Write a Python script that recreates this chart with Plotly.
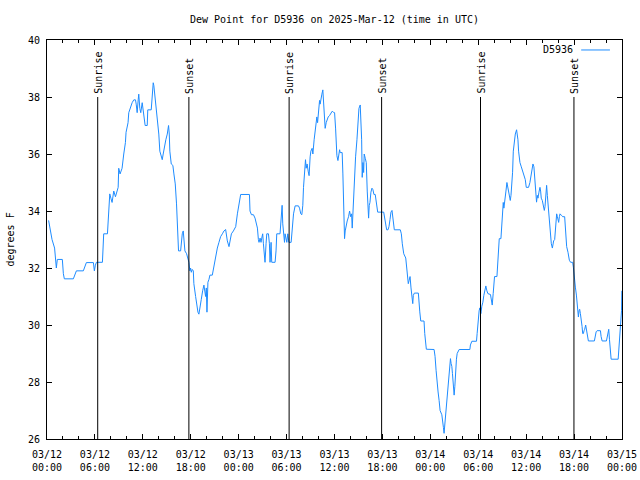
import pandas as pd
import plotly.graph_objects as go

START = "2025-03-12 00:00"
END = "2025-03-15 00:00"
STATION = "D5936"

# hours after 2025-03-12 00:00 UTC
hours = [
    0.20, 0.45, 0.63, 0.95, 1.04, 1.17, 1.29, 1.92, 2.05, 2.17, 3.30, 3.55, 3.68, 4.55, 4.74, 4.93,
    5.81, 5.93, 6.06, 6.19, 6.94, 7.03, 7.10, 7.57, 7.69, 7.73, 7.86, 8.00, 8.15, 8.36, 8.57, 8.91,
    8.98, 9.15, 9.40, 9.61, 9.82, 9.90, 10.03, 10.15, 10.24, 10.45, 10.66, 10.87, 11.08, 11.17,
    11.29, 11.42, 11.49, 11.62, 11.74, 11.92, 12.04, 12.21, 12.29, 12.55, 12.62, 13.05, 13.17,
    13.30, 13.38, 13.46, 13.59, 13.80, 14.00, 14.13, 14.30, 14.43, 14.55, 14.72, 14.88, 15.06,
    15.22, 15.31, 15.38, 15.56, 15.76, 15.89, 16.06, 16.22, 16.31, 16.47, 16.73, 16.81, 16.94,
    17.06, 17.19, 17.27, 17.48, 17.57, 17.77, 17.89, 17.98, 18.07, 18.19, 18.32, 18.39, 18.61,
    18.73, 18.90, 19.02, 19.15, 19.32, 19.49, 19.65, 19.86, 19.95, 20.03, 20.15, 20.28, 20.40,
    20.70, 20.83, 20.99, 21.15, 21.33, 21.53, 21.74, 21.96, 22.16, 22.37, 22.58, 22.79, 22.91,
    23.09, 23.34, 23.63, 23.84, 24.04, 24.17, 24.25, 25.35, 25.42, 25.60, 25.85, 26.05, 26.17,
    26.35, 26.47, 26.55, 26.68, 26.80, 26.89, 27.01, 27.10, 27.23, 27.30, 27.43, 27.52, 27.73,
    27.85, 27.93, 28.06, 28.14, 28.56, 28.68, 28.77, 29.18, 29.27, 29.36, 29.44, 29.52, 29.61,
    29.74, 29.81, 29.94, 30.03, 30.15, 30.28, 30.57, 30.65, 30.74, 30.87, 31.07, 31.49, 31.62,
    31.78, 31.91, 32.03, 32.12, 32.25, 32.37, 32.45, 32.57, 32.70, 32.82, 32.95, 33.04, 33.20,
    33.29, 33.45, 33.58, 33.70, 33.79, 33.88, 34.00, 34.13, 34.20, 34.29, 34.42, 34.54, 34.63,
    34.71, 34.83, 34.96, 35.04, 35.21, 35.38, 35.55, 35.71, 35.89, 36.01, 36.14, 36.26, 36.30,
    36.43, 36.55, 36.64, 36.71, 36.96, 37.05, 37.14, 37.26, 37.34, 37.46, 37.59, 37.76, 37.89,
    38.02, 38.14, 38.22, 38.31, 38.39, 38.52, 38.64, 38.81, 38.93, 39.06, 39.22, 39.31, 39.40,
    39.47, 39.56, 39.65, 39.72, 39.85, 39.98, 40.10, 40.19, 40.27, 40.35, 40.44, 40.56, 40.69,
    40.81, 40.94, 41.10, 41.19, 41.28, 41.41, 42.16, 42.28, 42.41, 42.53, 42.70, 42.82, 42.95,
    43.07, 43.20, 43.29, 43.36, 43.49, 44.24, 44.37, 44.49, 44.67, 44.92, 44.99, 45.12, 45.24,
    45.33, 45.46, 45.58, 45.67, 45.80, 45.87, 46.00, 46.50, 46.59, 46.68, 46.80, 47.21, 47.30,
    47.43, 47.50, 48.47, 48.59, 48.72, 48.84, 48.97, 49.10, 49.22, 49.44, 49.56, 49.64, 49.72,
    49.81, 49.89, 49.97, 50.06, 50.19, 50.31, 50.44, 50.52, 50.60, 50.69, 50.77, 50.89, 50.98,
    51.07, 51.15, 51.27, 51.36, 51.48, 51.61, 52.95, 53.02, 53.20, 53.78, 53.86, 53.95, 54.03,
    54.11, 54.20, 54.33, 54.45, 54.58, 54.70, 54.83, 54.95, 55.08, 55.21, 55.53, 55.66, 55.75,
    55.87, 55.96, 56.04, 56.34, 56.41, 56.54, 56.63, 56.84, 56.91, 57.00, 57.13, 57.21, 57.29,
    57.38, 57.47, 57.59, 57.67, 57.80, 57.92, 58.01, 58.10, 58.17, 58.30, 58.39, 58.51, 58.64,
    58.80, 58.89, 58.97, 59.05, 59.22, 59.39, 59.55, 59.72, 59.89, 60.01, 60.30, 60.47, 60.60,
    60.72, 60.85, 60.97, 61.05, 61.14, 61.23, 61.30, 61.39, 61.48, 61.60, 61.73, 61.81, 61.89,
    62.02, 62.14, 62.27, 62.36, 62.48, 62.56, 62.65, 62.74, 62.81, 62.90, 62.99, 63.06, 63.15,
    63.28, 63.36, 63.44, 63.57, 63.66, 63.74, 63.82, 63.91, 63.99, 64.07, 64.16, 64.24, 64.41,
    64.57, 64.82, 64.91, 64.99, 65.07, 65.24, 65.32, 65.41, 65.57, 65.82, 65.91, 66.00, 66.07,
    66.16, 66.29, 66.37, 66.45, 66.54, 66.62, 66.70, 66.79, 66.91, 67.00, 67.08, 67.16, 67.25,
    67.33, 67.45, 67.58, 67.66, 67.79, 68.54, 68.63, 68.76, 68.88, 69.30, 69.38, 69.51, 70.05,
    70.13, 70.26, 70.34, 70.43, 70.51, 70.64, 71.52, 71.60, 71.72, 71.85, 71.94, 71.98,
]

dew_point = [
    33.67, 33.2, 33.0, 32.7, 32.27, 32.0, 32.3, 32.3, 31.8, 31.62, 31.62, 31.8, 31.9, 31.9, 32.05, 32.19,
    32.19, 31.9, 32.1, 32.2, 32.2, 32.6, 33.2, 33.2, 33.8, 34.3, 34.6, 34.45, 34.3, 34.7, 34.5, 34.83,
    35.5, 35.3, 35.5, 36.0, 36.4, 36.76, 36.9, 37.1, 37.45, 37.63, 37.8, 37.9, 37.9, 37.75,
    37.45, 37.9, 38.1, 37.6, 37.45, 37.8, 37.55, 37.2, 37.0, 37.0, 37.55, 37.55, 38.0,
    38.5, 38.4, 38.2, 37.75, 37.23, 36.7, 36.1, 35.9, 35.8, 36.0, 36.3, 36.5, 36.7,
    37.0, 36.7, 36.1, 35.65, 35.6, 35.3, 34.95, 34.25, 33.55, 32.6, 32.6, 33.0, 33.2,
    33.3, 33.0, 32.6, 32.5, 32.4, 32.2, 31.9, 32.0, 31.85, 31.95, 31.9, 31.45, 31.0,
    30.75, 30.45, 30.38, 30.7, 30.9, 31.2, 31.4, 31.0, 31.3, 30.45, 31.5, 31.6, 31.75,
    31.75, 31.95, 32.2, 32.5, 32.7, 32.9, 33.1, 33.2, 33.3, 33.35, 32.95, 32.75, 33.0,
    33.2, 33.3, 33.45, 33.9, 34.2, 34.5, 34.58, 34.58, 34.0, 33.87, 33.87, 33.75, 33.6,
    33.4, 33.0, 32.9, 33.05, 32.9, 33.05, 33.2, 32.85, 32.4, 32.2, 32.85, 33.2, 33.2,
    32.85, 32.2, 32.9, 32.2, 32.2, 32.6, 33.2, 33.2, 33.5, 33.9, 34.2, 33.55, 33.15,
    32.9, 33.2, 33.05, 32.9, 33.2, 32.9, 32.9, 33.2, 33.6, 33.9, 34.18, 34.18, 34.1,
    33.9, 33.87, 34.2, 34.83, 35.48, 35.8, 35.5, 35.65, 35.4, 35.24, 35.9, 36.1, 36.2,
    36.0, 36.5, 36.76, 37.1, 37.3, 37.1, 37.45, 37.88, 37.75, 37.95, 38.1, 38.25, 37.9,
    37.45, 36.9, 37.1, 37.2, 37.3, 37.35, 37.46, 37.5, 37.46, 37.45, 36.88, 36.18, 35.94,
    35.77, 35.95, 36.15, 36.05, 36.05, 35.3, 33.8, 33.03, 33.3, 33.55, 33.65, 33.8, 34.0,
    33.8, 33.9, 33.4, 34.0, 34.37, 35.0, 35.9, 36.5, 37.17, 37.6, 37.72, 37.05, 36.5,
    35.18, 35.7, 35.35, 36.0, 35.85, 35.7, 34.7, 34.2, 33.75, 34.2, 34.3, 34.66, 34.8,
    34.75, 34.58, 34.58, 34.4, 34.2, 33.96, 33.96, 33.8, 33.5, 33.34, 33.34, 33.45, 33.7,
    33.96, 34.02, 33.85, 33.7, 33.34, 33.34, 33.2, 32.85, 32.5, 32.35, 32.1, 31.68, 31.45,
    31.55, 31.7, 31.3, 31.04, 30.75, 31.04, 31.12, 31.12, 30.9, 30.46, 30.14, 30.14, 29.7,
    29.4, 29.15, 29.14, 28.9, 28.41, 27.95, 27.65, 27.35, 27.0, 26.85, 26.66, 26.4, 26.2,
    26.5, 26.7, 26.95, 27.3, 27.71, 28.18, 28.6, 28.82, 28.65, 28.55, 28.3, 27.83, 27.54,
    27.85, 28.5, 28.8, 29.0, 29.1, 29.14, 29.14, 29.3, 29.43, 29.43, 29.7, 30.05, 30.2,
    30.5, 30.6, 30.4, 30.66, 30.8, 31.04, 31.2, 31.37, 31.2, 31.1, 31.07, 30.85, 30.7,
    31.1, 31.57, 31.7, 31.7, 32.15, 32.73, 33.03, 33.03, 33.4, 34.0, 34.3, 34.1, 34.25,
    34.37, 34.7, 35.0, 34.85, 34.7, 34.48, 34.37, 34.55, 34.8, 35.36, 36.1, 36.5, 36.7,
    36.85, 36.7, 36.5, 36.1, 35.7, 35.55, 35.42, 35.3, 35.1, 34.83, 34.83, 35.0, 35.2,
    35.48, 35.65, 35.55, 35.3, 35.0, 34.66, 34.31, 34.55, 34.45, 34.66, 34.83, 34.7, 34.45,
    34.37, 34.2, 34.02, 34.15, 34.54, 34.9, 34.55, 34.25, 33.96, 33.55, 33.3, 33.03, 32.85,
    32.7, 32.85, 32.95, 33.0, 33.3, 33.73, 33.9, 33.8, 33.7, 33.6, 33.8, 33.9, 33.85,
    33.8, 33.8, 33.5, 33.03, 32.75, 32.55, 32.4, 32.27, 32.2, 32.2, 32.03, 31.68, 31.5,
    31.33, 31.05, 30.75, 30.45, 30.28, 30.5, 30.55, 30.4, 30.2, 29.95, 29.7, 29.7, 29.8,
    29.85, 30.0, 29.8, 29.7, 29.44, 29.44, 29.6, 29.76, 29.8, 29.8, 29.6, 29.44, 29.44,
    29.6, 29.8, 29.85, 29.5, 29.11, 28.8, 28.8, 29.11, 29.74, 30.4, 30.5, 31.2,
]

sunrise_times = ["2025-03-12 06:21", "2025-03-13 06:19", "2025-03-14 06:17"]
sunset_times = ["2025-03-12 17:46", "2025-03-13 17:54", "2025-03-14 17:59"]

tick_times = pd.date_range(START, END, freq="6h")
tick_labels = [t.strftime("%m/%d") + "<br>" + t.strftime("%H:%M") for t in tick_times]

y_range = [26, 40]
y_step = 2
line_top = 38

FONT = "DejaVu Sans Mono"
BLUE = "#1e8cff"

W, H = 640, 480
ML, MR, MT, MB = 47, 18, 40, 41

times = pd.Timestamp(START) + pd.to_timedelta(hours, unit="h")

fig = go.Figure()
fig.add_trace(go.Scatter(x=times, y=dew_point, mode="lines",
                         line=dict(color=BLUE, width=1), name=STATION,
                         showlegend=False, hoverinfo="skip"))

shapes = []
annotations = []
for label, tlist in (("Sunrise", sunrise_times), ("Sunset", sunset_times)):
    for t in tlist:
        shapes.append(dict(type="line", xref="x", yref="y", x0=t, x1=t,
                           y0=y_range[0], y1=line_top,
                           line=dict(color="black", width=1)))
        annotations.append(dict(x=t, y=line_top, xref="x", yref="y",
                                text=label, textangle=-90, showarrow=False,
                                xanchor="center", yanchor="bottom", yshift=1,
                                font=dict(family=FONT, size=10, color="black")))

# legend (gnuplot style: text then line sample)
annotations.append(dict(x=0.918, y=0.975, xref="paper", yref="paper",
                        text=STATION, showarrow=False, xanchor="right",
                        yanchor="middle",
                        font=dict(family=FONT, size=10, color="black")))
shapes.append(dict(type="line", xref="paper", yref="paper",
                   x0=0.929, x1=0.979, y0=0.975, y1=0.975,
                   line=dict(color=BLUE, width=1)))

# y-axis title placed like gnuplot (centre ~10 px from the left edge)
annotations.append(dict(x=(10 - ML) / (W - ML - MR), y=0.5, xref="paper", yref="paper",
                        text="degrees F", textangle=-90, showarrow=False,
                        xanchor="center", yanchor="middle",
                        font=dict(family=FONT, size=10, color="black")))

fig.update_layout(
    width=W, height=H,
    margin=dict(l=ML, r=MR, t=MT, b=MB, autoexpand=False),
    paper_bgcolor="white", plot_bgcolor="white",
    font=dict(family=FONT, size=10, color="black"),
    title=dict(text=f"Dew Point for {STATION} on 2025-Mar-12 (time in UTC)",
               x=0.5, xref="paper", xanchor="center",
               y=1 - 19 / H, yref="container", yanchor="middle",
               font=dict(family=FONT, size=10, color="black")),
    shapes=shapes, annotations=annotations,
    showlegend=False,
)

fig.update_xaxes(
    type="date", range=[START, END], automargin=False,
    tickvals=tick_times, ticktext=tick_labels,
    ticks="inside", ticklen=5, tickcolor="black", tickwidth=1,
    showline=True, linecolor="black", linewidth=1, mirror="allticks",
    showgrid=False, zeroline=False,
    minor=dict(dtick=2 * 3600 * 1000, tick0=START, ticks="inside",
               ticklen=3, tickcolor="black", showgrid=False),
    tickfont=dict(family=FONT, size=10, color="black"),
    ticklabelstandoff=6,
)
fig.update_yaxes(
    range=y_range, dtick=y_step, tick0=y_range[0], automargin=False,
    ticks="inside", ticklen=5, tickcolor="black", tickwidth=1,
    showline=True, linecolor="black", linewidth=1, mirror="allticks",
    showgrid=False, zeroline=False,
    tickfont=dict(family=FONT, size=10, color="black"),
    ticklabelstandoff=4,
)

fig.write_html("out.html",
               config={"displayModeBar": False, "staticPlot": True},
               post_script="document.body.style.margin='0px';document.body.style.padding='0px';")
